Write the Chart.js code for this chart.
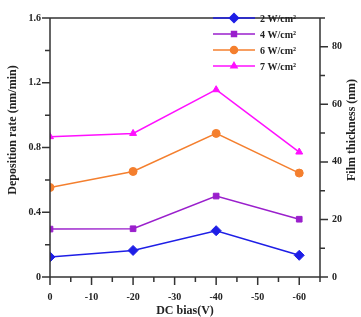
<!DOCTYPE html>
<html>
<head>
<meta charset="utf-8">
<script src="https://cdn.jsdelivr.net/npm/chart.js@4.4.0/dist/chart.umd.min.js"></script>
<style>
  html, body { margin: 0; padding: 0; background: #fff; }
  #wrap { width: 361px; height: 317px; }
</style>
</head>
<body>
<div id="wrap"><canvas id="chart" width="361" height="317"></canvas></div>
<script>
const bias = [0, -20, -40, -60];
const seriesNames = ["2 W/cm\u00b2", "4 W/cm\u00b2", "6 W/cm\u00b2", "7 W/cm\u00b2"];
const rate2 = [0.124, 0.164, 0.286, 0.134];
const rate4 = [0.296, 0.298, 0.500, 0.357];
const rate6 = [0.553, 0.652, 0.887, 0.642];
const rate7 = [0.867, 0.887, 1.157, 0.772];
const biasTicks = [0, -10, -20, -30, -40, -50, -60];
const rateTicks = [0, 0.4, 0.8, 1.2, 1.6];
const thickTicks = [0, 20, 40, 60, 80];

const colors = ['#1e1ee6', '#9a1fcc', '#f47f2e', '#ff10ff'];
const markers = ['rectRot', 'rect', 'circle', 'triangle'];
const markerSize = [5, 4, 4, 4];
const allRates = [rate2, rate4, rate6, rate7];

const axisColor = '#333';
const font = '"Liberation Serif", "Times New Roman", serif';

const datasets = allRates.map((vals, i) => ({
    label: seriesNames[i],
    data: bias.map((b, j) => ({ x: b, y: vals[j] })),
    borderColor: colors[i],
    backgroundColor: colors[i],
    borderWidth: 1.5,
    pointStyle: markers[i],
    pointRadius: markerSize[i],
    pointBorderWidth: 1,
    tension: 0,
    xAxisID: 'x',
    yAxisID: 'y'
}));

// tick marks, frame, titles, legend
const decor = {
    id: 'decor',
    afterDraw(chart) {
        const ctx = chart.ctx;
        const a = chart.chartArea;
        const sx = chart.scales.x, sy = chart.scales.y, sy2 = chart.scales.y2;
        ctx.save();
        ctx.strokeStyle = axisColor;
        ctx.lineWidth = 1.5;
        ctx.beginPath();
        ctx.moveTo(a.left, a.top); ctx.lineTo(a.right, a.top);
        ctx.moveTo(a.left, a.top); ctx.lineTo(a.left, a.bottom);
        ctx.moveTo(a.right, a.top); ctx.lineTo(a.right, a.bottom);
        ctx.moveTo(a.left, a.bottom); ctx.lineTo(a.right, a.bottom);
        // left ticks
        for (let v = 0; v <= 16; v += 2) {
            const y = sy.getPixelForValue(v / 10);
            const len = v % 4 === 0 ? 8 : 5;
            ctx.moveTo(a.left - len, y); ctx.lineTo(a.left, y);
        }
        // right ticks
        for (let v = 0; v <= 90; v += 10) {
            const y = sy2.getPixelForValue(v);
            const len = v % 20 === 0 ? 8 : 5;
            ctx.moveTo(a.right, y); ctx.lineTo(a.right + len, y);
        }
        // bottom ticks
        for (let v = 0; v >= -65; v -= 5) {
            const x = sx.getPixelForValue(v);
            const len = v % 10 === 0 ? 8 : 5;
            ctx.moveTo(x, a.bottom); ctx.lineTo(x, a.bottom + len);
        }
        ctx.stroke();

        // axis titles
        ctx.fillStyle = '#222';
        ctx.font = 'bold 12px ' + font;
        ctx.textAlign = 'center';
        ctx.textBaseline = 'middle';
        ctx.fillText('DC bias(V)', 185, 311);
        ctx.save();
        ctx.translate(13, 130);
        ctx.rotate(-Math.PI / 2);
        ctx.fillText('Deposition rate (nm/min)', 0, 0);
        ctx.restore();
        ctx.save();
        ctx.translate(352, 130);
        ctx.rotate(-Math.PI / 2);
        ctx.fillText('Film thickness (nm)', 0, 0);
        ctx.restore();

        // legend
        ctx.font = 'bold 10px ' + font;
        ctx.textAlign = 'left';
        chart.data.datasets.forEach((ds, i) => {
            const y = 18 + i * 16;
            ctx.strokeStyle = ds.borderColor;
            ctx.fillStyle = ds.backgroundColor;
            ctx.lineWidth = 1.5;
            ctx.beginPath();
            ctx.moveTo(213, y); ctx.lineTo(255, y);
            ctx.stroke();
            Chart.helpers.drawPoint(ctx, {
                pointStyle: ds.pointStyle, radius: ds.pointRadius - 0.5,
                rotation: 0, borderWidth: 1
            }, 234, y);
            ctx.fillStyle = '#222';
            ctx.fillText(ds.label, 260, y + 1);
        });
        ctx.restore();
    }
};

const tickFont = { family: font, size: 10, weight: 'bold' };

new Chart(document.getElementById('chart'), {
    type: 'line',
    data: { datasets },
    options: {
        responsive: false,
        animation: false,
        layout: { padding: { top: 7, left: 0, right: 0, bottom: 0 } },
        plugins: { legend: { display: false }, tooltip: { enabled: false } },
        scales: {
            x: {
                type: 'linear',
                reverse: true,
                min: -65,
                max: 0,
                afterFit(s) { s.height = 40; },
                grid: { display: false, drawTicks: false },
                border: { display: false },
                afterBuildTicks(s) { s.ticks = biasTicks.map(v => ({ value: v })); },
                ticks: {
                    autoSkip: false,
                    padding: 14,
                    color: '#222',
                    font: tickFont,
                    maxRotation: 0,
                    callback: v => String(v)
                }
            },
            y: {
                position: 'left',
                min: 0,
                max: 1.6,
                afterFit(s) { s.width = 50; },
                grid: { display: false, drawTicks: false },
                border: { display: false },
                afterBuildTicks(s) { s.ticks = rateTicks.map(v => ({ value: v })); },
                ticks: {
                    padding: 9,
                    color: '#222',
                    font: tickFont,
                    callback: v => (v === 0 ? '0' : v.toFixed(1))
                }
            },
            y2: {
                position: 'right',
                display: true,
                min: 0,
                max: 90,
                afterFit(s) { s.width = 41; },
                grid: { display: false, drawTicks: false },
                border: { display: false },
                afterBuildTicks(s) { s.ticks = thickTicks.map(v => ({ value: v })); },
                ticks: {
                    padding: 12,
                    color: '#222',
                    font: tickFont,
                    callback: v => String(v)
                }
            }
        }
    },
    plugins: [decor]
});
</script>
</body>
</html>
